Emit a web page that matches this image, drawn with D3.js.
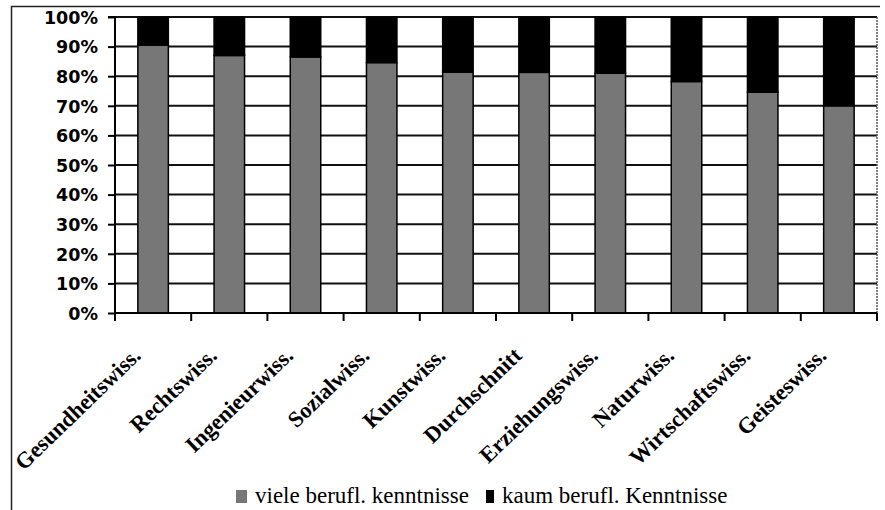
<!DOCTYPE html>
<html><head><meta charset="utf-8">
<script src="https://cdn.jsdelivr.net/npm/d3@7"></script>
<style>html,body{margin:0;padding:0;background:#fff;}svg{display:block;}
.serif{font-family:"Liberation Serif","DejaVu Serif","Times New Roman",serif;}
</style>
</head><body>
<script>
const categories = ["Gesundheitswiss.","Rechtswiss.","Ingenieurwiss.","Sozialwiss.","Kunstwiss.","Durchschnitt","Erziehungswiss.","Naturwiss.","Wirtschaftswiss.","Geisteswiss."];
const viele = [90.5, 87, 86.5, 84.6, 81.4, 81.3, 81, 78.2, 74.6, 70];
const kaum = viele.map(v => 100 - v);
const yTicks = [0,10,20,30,40,50,60,70,80,90,100];
const seriesNames = ["viele berufl. kenntnisse","kaum berufl. Kenntnisse"];
const colors = ["#777777","#000000"];

const W = 885, H = 510;
const svg = d3.select("body").append("svg").attr("width", W).attr("height", H);

// frame
svg.append("path").attr("d","M11.5,512 V6.5 H880").attr("fill","none").attr("stroke","#222").attr("stroke-width",1.5);

const x0 = 115, x1 = 877, yTop = 17, yBot = 313;
const x = d3.scaleBand().domain(categories).range([x0, x1]).padding(0);
const y = d3.scaleLinear().domain([0,100]).range([yBot, yTop]);

// gridlines
svg.append("g").selectAll("line").data(yTicks.filter(t=>t>0)).join("line")
  .attr("x1", x0).attr("x2", x1).attr("y1", d=>y(d)).attr("y2", d=>y(d))
  .attr("stroke","#111").attr("stroke-width",2);
// right border of plot (dotted)
svg.append("line").attr("x1",x1).attr("x2",x1).attr("y1",yTop).attr("y2",yBot)
  .attr("stroke","#555").attr("stroke-width",1.5).attr("stroke-dasharray","2,1");

// bars
const bw = x.bandwidth()*0.4;
const g = svg.append("g");
categories.forEach((c,i)=>{
  const cx = x(c) + x.bandwidth()/2;
  g.append("rect").attr("x", cx-bw/2).attr("width", bw)
    .attr("y", y(viele[i])).attr("height", y(0)-y(viele[i]))
    .attr("fill", colors[0]).attr("stroke","#000").attr("stroke-width",1.5);
  g.append("rect").attr("x", cx-bw/2).attr("width", bw)
    .attr("y", y(100)).attr("height", y(viele[i])-y(100))
    .attr("fill", colors[1]).attr("stroke","#000").attr("stroke-width",1.5);
});

// y axis
const yAxis = d3.axisLeft(y).tickValues(yTicks).tickFormat(d=>d+"%").tickSize(7).tickPadding(10);
const ya = svg.append("g").attr("transform",`translate(${x0},0)`).call(yAxis);
ya.attr("font-family", null).attr("font-size", null);
ya.select(".domain").attr("stroke","#000").attr("stroke-width",2).attr("d",`M-7,${yTop}H0V${yBot+8}`);
ya.selectAll(".tick line").attr("stroke","#000").attr("stroke-width",2);
ya.selectAll(".tick text").style("font-family","'DejaVu Sans', sans-serif").style("font-weight","bold")
  .style("font-size","17.5px").attr("fill","#000").attr("dy","0.36em");

// x axis
const boundaries = categories.map(c=>x(c)).concat([x1]);
const xa = svg.append("g");
xa.append("line").attr("x1",x0).attr("x2",x1).attr("y1",yBot).attr("y2",yBot).attr("stroke","#000").attr("stroke-width",2);
xa.selectAll("line.t").data(boundaries).join("line").attr("class","t")
  .attr("x1",d=>d).attr("x2",d=>d).attr("y1",yBot).attr("y2",yBot+8).attr("stroke","#000").attr("stroke-width",2);
xa.selectAll("text").data(categories).join("text").attr("class","serif")
  .attr("transform", d=>`translate(${x(d)+x.bandwidth()/2-11},357) rotate(-44)`)
  .attr("text-anchor","end").style("font-weight","bold")
  .style("font-size","22.5px").attr("fill","#000").text(d=>d);

// legend
const leg = svg.append("g");
leg.append("rect").attr("x",236).attr("y",490).attr("width",11).attr("height",13).attr("fill",colors[0]);
leg.append("text").attr("class","serif").attr("x",255).attr("y",503).style("font-size","23px").text(seriesNames[0]);
leg.append("rect").attr("x",486).attr("y",490).attr("width",8).attr("height",13).attr("fill",colors[1]);
leg.append("text").attr("class","serif").attr("x",502).attr("y",503).style("font-size","23px").text(seriesNames[1]);
</script>
</body></html>
